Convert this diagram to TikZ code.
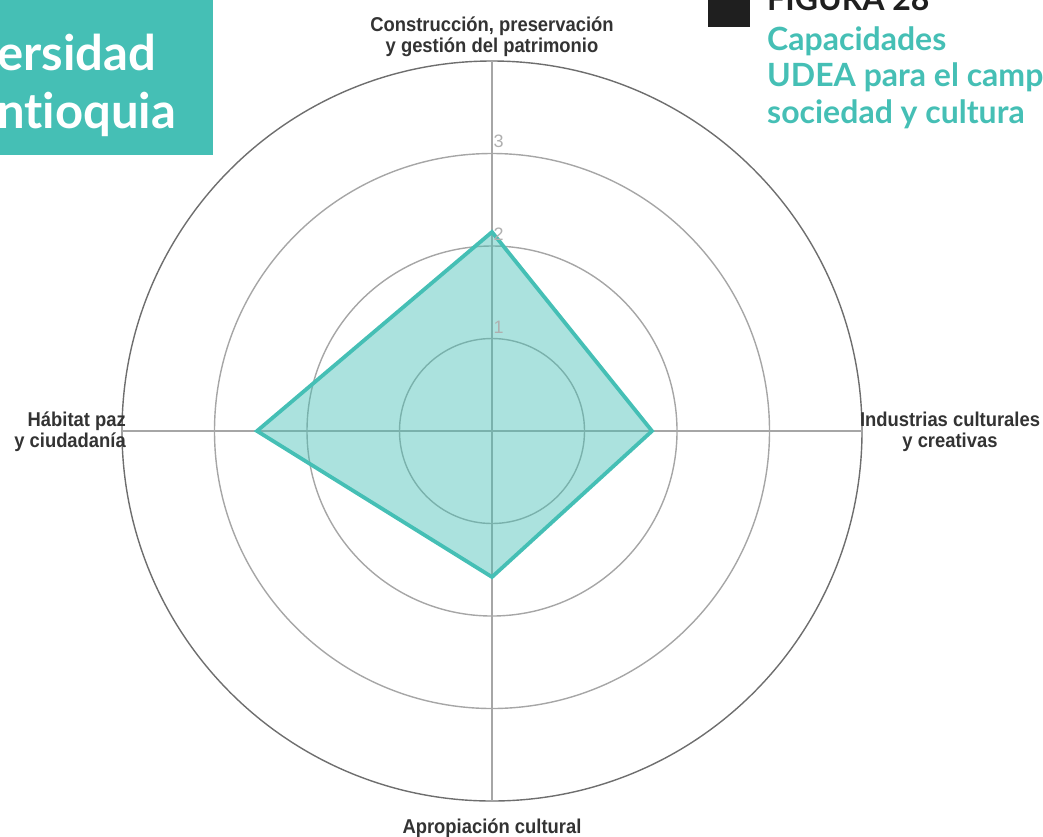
\documentclass[tikz,border=0pt]{standalone}
\usepackage{fontspec}
\setmainfont{Liberation Sans}
\newfontfamily\labfont[FakeStretch=0.92]{Liberation Sans}
\newfontfamily\headfont[Ligatures=NoCommon]{Lato}
\definecolor{teal1}{HTML}{45BFB5}
\definecolor{gridg}{HTML}{A6A6A6}
\definecolor{outerg}{HTML}{6E6E6E}
\definecolor{labg}{HTML}{333333}
\definecolor{tickg}{HTML}{AFAFAF}
\tikzset{
  gridline/.style={draw=gridg, line width=1.4pt},
  outerline/.style={draw=outerg, line width=1.4pt},
  axlabel/.style={font=\labfont\bfseries\fontsize{20}{21}\selectfont, text=labg, inner sep=0pt},
  ticklab/.style={font=\fontsize{18}{18}\selectfont, text=tickg, inner sep=0pt, anchor=base west},
  headtxt/.style={font=\headfont\bfseries\fontsize{49}{58}\selectfont, text=white, inner sep=0pt, anchor=base west},
  figtxt/.style={font=\headfont\bfseries\fontsize{32}{36}\selectfont, inner sep=0pt, anchor=base west},
}
\begin{document}
\begin{tikzpicture}[x=1pt,y=-1pt]
\useasboundingbox (0,0) rectangle (1043,836);
\coordinate (c) at (492,431);
% grid rings
\foreach \r in {92.5,185,277.5} \draw[gridline] (c) circle[radius=\r];
\draw[outerline] (c) circle[radius=370];
% axes
\coordinate (top) at (492,61);
\coordinate (bot) at (492,801);
\coordinate (lft) at (122,431);
\coordinate (rgt) at (862,431);
\draw[gridline] (top) -- (bot);
\draw[gridline] (lft) -- (rgt);
% data polygon
\coordinate (pt) at (492,232);
\coordinate (pr) at (652,431);
\coordinate (pb) at (492,577);
\coordinate (pl) at (257,431);
\fill[teal1, fill opacity=0.45] (pt) -- (pr) -- (pb) -- (pl) -- cycle;
\draw[teal1, line width=3.8pt, line join=miter] (pt) -- (pr) -- (pb) -- (pl) -- cycle;
% tick labels
\node[ticklab] (t1) at (493.5,333) {1};
\node[ticklab] (t2) at (493.5,240) {2};
\node[ticklab] (t3) at (493.5,147) {3};
% axis labels
\node[axlabel, align=center, anchor=base] (lt) at (492,52) {Construcción, preservación\\y gestión del patrimonio};
\node[axlabel, align=right, anchor=base east] (ll) at (126,447) {Hábitat paz\\y ciudadanía};
\node[axlabel, align=center, anchor=base] (lr) at (950,447) {Industrias culturales\\y creativas};
\node[axlabel, anchor=base] (lb) at (492,833) {Apropiación cultural};
% top-left box
\fill[teal1] (0,0) rectangle (213,155);
\node[headtxt] (h1) at (-3,70) {ersidad};
\node[headtxt] (h2) at (-3,128) {ntioquia};
% top-right figure title
\fill[black!88] (708,-2) rectangle (750,27);
\node[figtxt, text=black!88] (f0) at (767,10) {FIGURA 28};
\node[figtxt, text=teal1] (f1) at (767,50) {Capacidades};
\node[figtxt, text=teal1] (f2) at (767,86) {UDEA para el campo};
\node[figtxt, text=teal1] (f3) at (767,123) {sociedad y cultura};
\end{tikzpicture}
\end{document}
